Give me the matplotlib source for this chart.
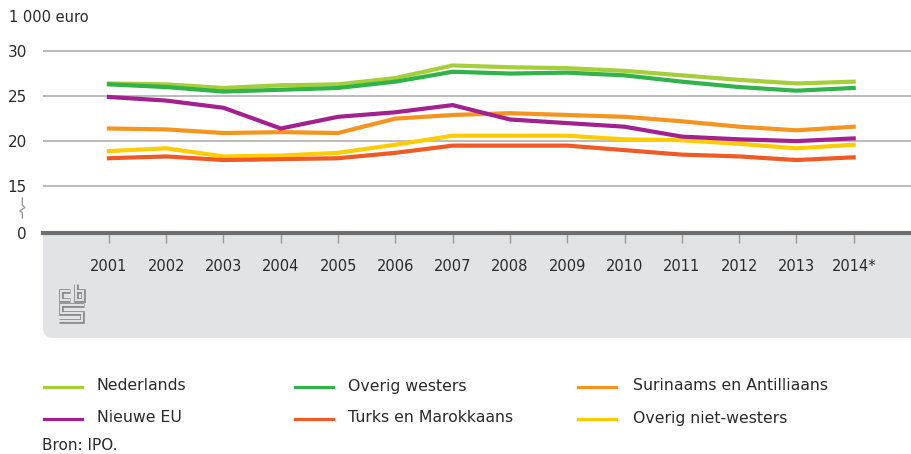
import matplotlib
matplotlib.use("Agg")
import matplotlib.pyplot as plt
from matplotlib.lines import Line2D
from matplotlib.patches import FancyBboxPatch

# besteedbaar inkomen per herkomstgroep, 1 000 euro
jaren = list(range(2001, 2015))
jaar_labels = [str(j) for j in jaren[:-1]] + ["2014*"]

nederlands = [26.4, 26.3, 25.9, 26.2, 26.3, 27.0, 28.4, 28.2, 28.1, 27.8, 27.3, 26.8, 26.4, 26.6]
overig_westers = [26.3, 26.0, 25.5, 25.7, 25.9, 26.6, 27.7, 27.5, 27.6, 27.3, 26.6, 26.0, 25.6, 25.9]
surinaams = [21.4, 21.3, 20.9, 21.0, 20.9, 22.5, 22.9, 23.1, 22.9, 22.7, 22.2, 21.6, 21.2, 21.6]
nieuwe_eu = [24.9, 24.5, 23.7, 21.4, 22.7, 23.2, 24.0, 22.4, 22.0, 21.6, 20.5, 20.2, 20.0, 20.3]
turks = [18.1, 18.3, 17.9, 18.0, 18.1, 18.7, 19.5, 19.5, 19.5, 19.0, 18.5, 18.3, 17.9, 18.2]
overig_nw = [18.9, 19.2, 18.3, 18.4, 18.7, 19.6, 20.6, 20.6, 20.6, 20.2, 20.1, 19.7, 19.2, 19.6]

y_ticks = [15, 20, 25, 30]
nul_pos = 9.8  # as is onderbroken tussen 0 en 15

reeksen = [
    ("Nederlands", nederlands, "#a6ce39"),
    ("Surinaams en Antilliaans", surinaams, "#f7941d"),
    ("Overig niet-westers", overig_nw, "#ffcc00"),
    ("Turks en Marokkaans", turks, "#f15a24"),
    ("Overig westers", overig_westers, "#2fb34a"),
    ("Nieuwe EU", nieuwe_eu, "#a3218e"),
]

W, H = 911, 454
fig = plt.figure(figsize=(W / 100, H / 100), dpi=100)


def px(x, y):
    return x / W, 1 - y / H


grijs_vlak = "#e2e3e4"
tekst = "#2a2a2a"

# grijze band onder de x-as
band = FancyBboxPatch((0.43, 1.16), 9.5, 1.5,
                      boxstyle="round,pad=0,rounding_size=0.1",
                      transform=fig.dpi_scale_trans, facecolor=grijs_vlak,
                      edgecolor="none", zorder=-1)
fig.patches.append(band)

ax = fig.add_axes([43 / W, 1 - 233 / H, 1 - 43 / W, (233 - 45) / H])
ax.set_facecolor("white")

for naam, waarden, kleur in reeksen:
    ax.plot(jaren, waarden, color=kleur, lw=3, solid_capstyle="projecting",
            solid_joinstyle="miter", zorder=3)

ax.set_xlim(1999.85, 2015.0)
ax.set_ylim(nul_pos, 30.67)

ax.set_yticks([nul_pos] + y_ticks)
ax.set_yticklabels(["0"] + [str(t) for t in y_ticks])
ax.set_xticks(jaren)
ax.set_xticklabels(jaar_labels)

for t in y_ticks:
    ax.axhline(t, color="#a8a8a8", lw=1.1, zorder=1)

for s in ["top", "right", "left"]:
    ax.spines[s].set_visible(False)
ax.spines["bottom"].set_color("#6e6e6e")
ax.spines["bottom"].set_linewidth(3)
ax.spines["bottom"].set_zorder(4)

ax.tick_params(axis="y", length=0, pad=11.5, labelsize=11, labelcolor=tekst)
ax.tick_params(axis="x", direction="out", length=7, width=1, color="#999999",
               pad=12, labelsize=10.5, labelcolor=tekst)

fig.text(*px(9, 18), "1 000 euro", fontsize=10.5, color=tekst, va="center", ha="left")

# onderbrekingsteken op de y-as
breuk = [(22.3, 198), (22.3, 205), (24.8, 207.5), (19.8, 211), (22.3, 212.5), (22.3, 218)]
fig.add_artist(Line2D([px(*p)[0] for p in breuk], [px(*p)[1] for p in breuk],
                      color="#9a9a9a", lw=1.0))

# cbs-logo als omlijnde streken
logo_delen = [
    [(70, 291), (61, 291), (61, 300), (70, 300)],
    [(76, 284), (76, 300), (83, 300), (83, 291), (76, 291)],
    [(84, 304.5), (61, 304.5), (61, 312.5), (82, 312.5), (82, 320.5), (59, 320.5)],
]
for deel in logo_delen:
    xs = [px(*p)[0] for p in deel]
    ys = [px(*p)[1] for p in deel]
    fig.add_artist(Line2D(xs, ys, color="#8c8c8c", lw=3.4, solid_joinstyle="miter",
                          solid_capstyle="butt"))
    fig.add_artist(Line2D(xs, ys, color=grijs_vlak, lw=1.4, solid_joinstyle="miter",
                          solid_capstyle="butt"))

# legenda: drie kolommen, twee rijen
legenda = {
    "Nederlands": (44, 387), "Overig westers": (295, 387),
    "Surinaams en Antilliaans": (578, 387),
    "Nieuwe EU": (44, 419), "Turks en Marokkaans": (295, 419),
    "Overig niet-westers": (578, 419),
}
tekst_x = {44: 97, 295: 348, 578: 633}
for naam, waarden, kleur in reeksen:
    lx, ly = legenda[naam]
    x0, y0 = px(lx, ly)
    x1, _ = px(lx + 38, ly)
    fig.add_artist(Line2D([x0, x1], [y0, y0], color=kleur, lw=2.3))
    fig.text(*px(tekst_x[lx], ly - 1), naam, fontsize=11.3, color=tekst,
             va="center", ha="left")

fig.text(*px(42, 445), "Bron: IPO.", fontsize=11, color=tekst, va="center", ha="left")

fig.savefig("out.png", dpi=100)
